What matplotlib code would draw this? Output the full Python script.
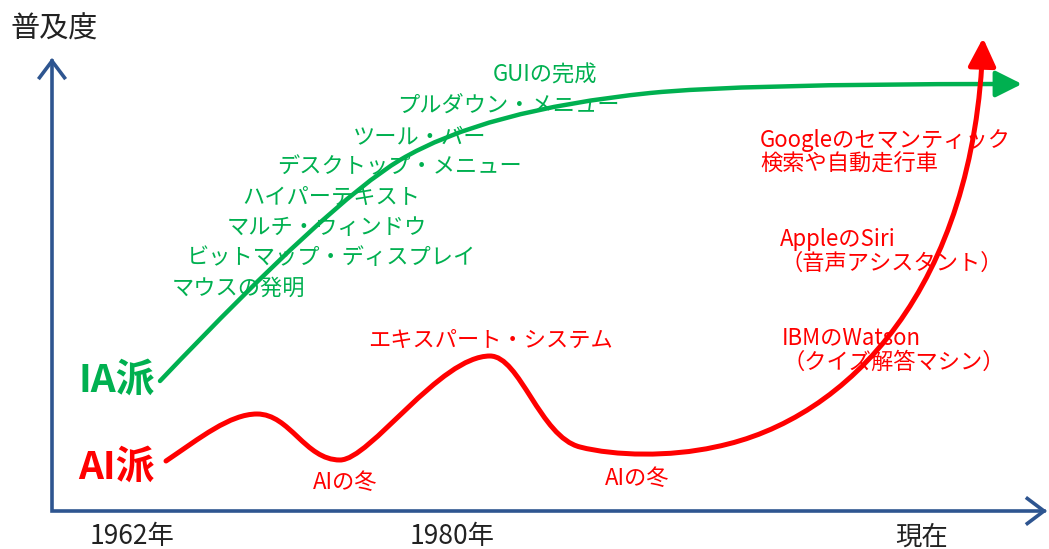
import matplotlib
matplotlib.use("Agg")
import matplotlib.pyplot as plt
from matplotlib.path import Path
from matplotlib.patches import FancyArrowPatch

plt.rcParams['font.family'] = ['Noto Sans CJK JP', 'DejaVu Sans']

# canvas units = picture pixels (x to the right, y downwards)
W, H = 1049, 549

# IA curve: quadratic bezier chain (anchor, control, anchor, ...)
ia_x = [160, 331, 400, 484, 650, 740, 1000, 1022]
ia_y = [381, 201, 160, 110, 93, 84, 84, 84]

# AI curve: cubic bezier chain
ai_x = [166, 200, 230, 257, 290, 305, 340, 370, 440, 490, 520, 540,
        580, 615, 670, 715, 850, 975, 983]
ai_y = [461, 438, 414, 414, 414, 460, 460, 460, 356, 356, 356, 437,
        447, 456, 457, 447, 420, 285, 38]

# axes corner / ends
axis_x = [52, 52, 1047]
axis_y = [58, 511, 511]

ia_labels = ["GUIの完成", "プルダウン・メニュー", "ツール・バー", "デスクトップ・メニュー",
             "ハイパーテキスト", "マルチ・ウィンドウ", "ビットマップ・ディスプレイ", "マウスの発明"]
ia_label_x = [493, 397, 353, 277, 242, 227, 187, 172]
ia_label_y = [75, 105, 137, 167, 197, 227, 258, 288]

ai_labels = ["エキスパート・システム", "AIの冬", "AIの冬",
             "Googleのセマンティック\n検索や自動走行車",
             "AppleのSiri\n（音声アシスタント）",
             "IBMのWatson\n（クイズ解答マシン）"]
ai_label_x = [368, 313, 605, 760, 780, 782]
ai_label_y = [340, 482, 478, 152, 251, 350]

x_ticks = ["1962年", "1980年", "現在"]
x_tick_pos = [132, 452, 922]

GREEN = "#00B050"
RED = "#FF0000"
BLUE = "#2E5590"

fig = plt.figure(figsize=(W / 100, H / 100), dpi=100)
ax = fig.add_axes([0, 0, 1, 1])
ax.set_xlim(0, W)
ax.set_ylim(H, 0)
ax.axis("off")

# axes with arrow heads
axis_path = Path(list(zip(axis_x, axis_y)), [Path.MOVETO, Path.LINETO, Path.LINETO])
ax.add_patch(FancyArrowPatch(path=axis_path, arrowstyle="<->,head_length=0.6,head_width=0.45",
                             mutation_scale=20, color=BLUE, lw=2.6, joinstyle="miter",
                             capstyle="projecting"))

# IA curve
ia_codes = [Path.MOVETO] + [Path.CURVE3] * 6 + [Path.LINETO]
ax.add_patch(FancyArrowPatch(path=Path(list(zip(ia_x, ia_y)), ia_codes),
                             arrowstyle="-|>,head_length=0.8,head_width=0.4",
                             mutation_scale=20, color=GREEN, lw=3.2))

# AI curve
ai_codes = [Path.MOVETO] + [Path.CURVE4] * (len(ai_x) - 1)
ax.add_patch(FancyArrowPatch(path=Path(list(zip(ai_x, ai_y)), ai_codes),
                             arrowstyle="-|>,head_length=0.85,head_width=0.42",
                             mutation_scale=20, color=RED, lw=3.6))

# labels
for t, x, y in zip(ia_labels, ia_label_x, ia_label_y):
    ax.text(x, y, t, color=GREEN, fontsize=16, ha="left", va="center")
for t, x, y in zip(ai_labels, ai_label_x, ai_label_y):
    ax.text(x, y, t, color=RED, fontsize=16, ha="left", va="center", linespacing=1.05)

ax.text(78, 380, "IA派", color=GREEN, fontsize=28, fontweight="bold", ha="left", va="center")
ax.text(78, 467, "AI派", color=RED, fontsize=28, fontweight="bold", ha="left", va="center")

ax.text(10, 30, "普及度", color="#222222", fontsize=21, ha="left", va="center")
for t, x in zip(x_ticks, x_tick_pos):
    ax.text(x, 537, t, color="#222222", fontsize=19, ha="center", va="center")

fig.savefig("out.png", dpi=100)
